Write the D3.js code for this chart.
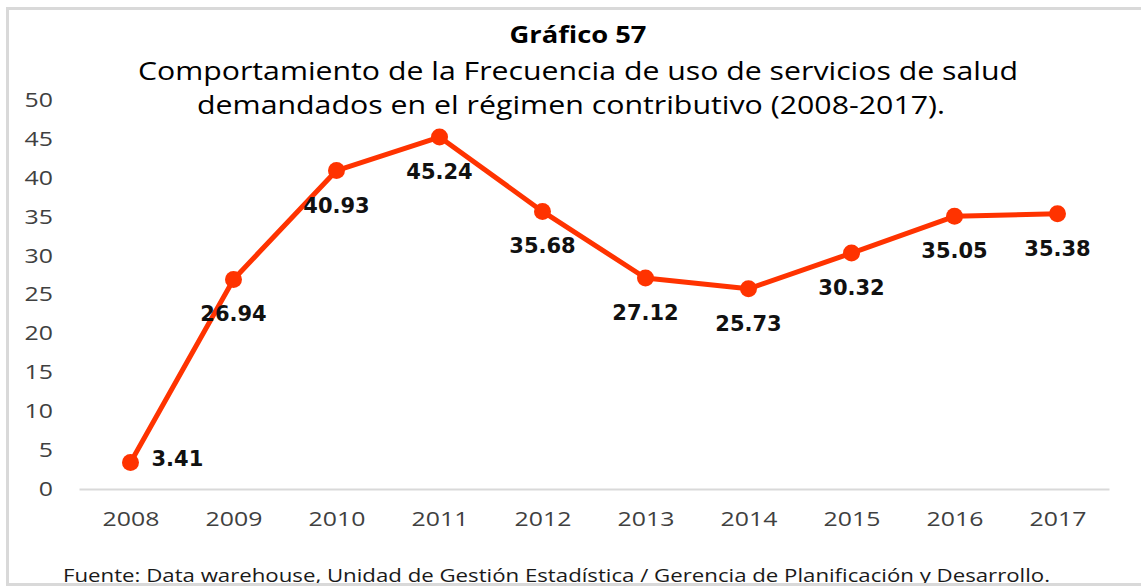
<!DOCTYPE html>
<html>
<head>
<meta charset="utf-8">
<script src="https://cdn.jsdelivr.net/npm/d3@7"></script>
<style>
  body { margin: 0; background: #ffffff; }
  svg { display: block; }
</style>
</head>
<body>
<svg id="chart" width="1141" height="586"></svg>
<script>
// Years on the horizontal axis
const years = ["2008", "2009", "2010", "2011", "2012", "2013", "2014", "2015", "2016", "2017"];
// Frecuencia de uso de servicios de salud, régimen contributivo
const values = [3.41, 26.94, 40.93, 45.24, 35.68, 27.12, 25.73, 30.32, 35.05, 35.38];
// Vertical axis ticks
const yTicks = [0, 5, 10, 15, 20, 25, 30, 35, 40, 45, 50];

const titleText = "Gráfico 57";
const subtitleLines = [
  "Comportamiento de la Frecuencia de uso de servicios de salud",
  "demandados en el régimen contributivo (2008-2017)."
];
const sourceText = "Fuente: Data warehouse, Unidad de Gestión Estadística / Gerencia de Planificación y Desarrollo.";

const W = 1141, H = 586;
const svg = d3.select("#chart");

const textFont = "'Open Sans', 'Noto Sans', sans-serif";
const labelFont = "'DejaVu Sans', Verdana, sans-serif";
const lineColor = "#ff3300";

// background
svg.append("rect").attr("x", 0).attr("y", 0).attr("width", W).attr("height", H).attr("fill", "#ffffff");

// scales
const x = d3.scalePoint().domain(years).range([79, 1109]).padding(0.5);
const y = d3.scaleLinear().domain([0, 50]).range([489, 100]);

// stretch helper for the wide axis digits
const digitW = 14.2;

// y axis
const yAxis = svg.append("g")
  .attr("transform", "translate(79,0)")
  .call(d3.axisLeft(y).tickValues(yTicks).tickSize(0).tickPadding(26).tickFormat(d3.format("d")));
yAxis.select(".domain").remove();
yAxis.selectAll("text")
  .attr("font-family", textFont)
  .attr("font-size", 20)
  .attr("fill", "#404040")
  .attr("textLength", function () { return this.textContent.length * digitW; })
  .attr("lengthAdjust", "spacingAndGlyphs");

// x axis
const xAxis = svg.append("g")
  .attr("transform", "translate(0,489)")
  .call(d3.axisBottom(x).tickSize(0).tickSizeOuter(0).tickPadding(23));
xAxis.select(".domain")
  .attr("stroke", "#d9d9d9")
  .attr("stroke-width", 2);
xAxis.selectAll("text")
  .attr("font-family", textFont)
  .attr("font-size", 20)
  .attr("fill", "#404040")
  .attr("textLength", function () { return this.textContent.length * digitW; })
  .attr("lengthAdjust", "spacingAndGlyphs");

// series line
const series = years.map((yr, i) => ({ year: yr, value: values[i] }));
const line = d3.line().x(d => x(d.year)).y(d => y(d.value));

svg.append("path")
  .datum(series)
  .attr("d", line)
  .attr("fill", "none")
  .attr("stroke", lineColor)
  .attr("stroke-width", 5)
  .attr("stroke-linejoin", "round");

svg.append("g").selectAll("circle")
  .data(series)
  .join("circle")
  .attr("cx", d => x(d.year))
  .attr("cy", d => y(d.value))
  .attr("r", 8.5)
  .attr("fill", lineColor);

// value labels
svg.append("g").selectAll("text")
  .data(series)
  .join("text")
  .attr("x", (d, i) => i === 0 ? x(d.year) + 21 : x(d.year))
  .attr("y", (d, i) => i === 0 ? y(d.value) + 4 : y(d.value) + 42)
  .attr("text-anchor", (d, i) => i === 0 ? "start" : "middle")
  .attr("font-family", labelFont)
  .attr("font-weight", "bold")
  .attr("font-size", 21)
  .attr("fill", "#111111")
  .text(d => d.value.toFixed(2));

// titles
svg.append("text")
  .attr("x", 578).attr("y", 43)
  .attr("text-anchor", "middle")
  .attr("font-family", textFont)
  .attr("font-weight", "bold")
  .attr("font-size", 24)
  .attr("fill", "#000000")
  .attr("textLength", 137)
  .attr("lengthAdjust", "spacingAndGlyphs")
  .text(titleText);

const subPos = [{ cx: 578, base: 80, w: 880 }, { cx: 571, base: 114, w: 748 }];
svg.append("g").selectAll("text")
  .data(subtitleLines)
  .join("text")
  .attr("x", (d, i) => subPos[i].cx)
  .attr("y", (d, i) => subPos[i].base)
  .attr("text-anchor", "middle")
  .attr("font-family", textFont)
  .attr("font-size", 26)
  .attr("fill", "#000000")
  .attr("textLength", (d, i) => subPos[i].w)
  .attr("lengthAdjust", "spacingAndGlyphs")
  .text(d => d);

// source note
svg.append("text")
  .attr("x", 63).attr("y", 582)
  .attr("font-family", textFont)
  .attr("font-size", 18)
  .attr("fill", "#1a1a1a")
  .attr("textLength", 987)
  .attr("lengthAdjust", "spacingAndGlyphs")
  .text(sourceText);

// frame
svg.append("rect")
  .attr("x", 7.5).attr("y", 8.5)
  .attr("width", 1145).attr("height", 576)
  .attr("fill", "none")
  .attr("stroke", "#d9d9d9")
  .attr("stroke-width", 3);
</script>
</body>
</html>
